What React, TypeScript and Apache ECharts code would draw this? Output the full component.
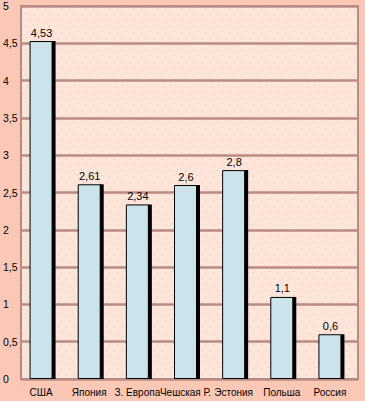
import React, { useEffect, useRef } from "react";
import * as echarts from "echarts";

const categories = ["США", "Япония", "З. Европа", "Чешская Р.", "Эстония", "Польша", "Россия"];
const values = [4.53, 2.61, 2.34, 2.6, 2.8, 1.1, 0.6];
const valueLabels = ["4,53", "2,61", "2,34", "2,6", "2,8", "1,1", "0,6"];
const yTicks = { min: 0, max: 5, interval: 0.5 };

const FONT = "'Liberation Sans', Arial, sans-serif";

function makePattern(): string {
  const c = document.createElement("canvas");
  c.width = 24;
  c.height = 24;
  const ctx = c.getContext("2d")!;
  ctx.fillStyle = "#fde5da";
  ctx.fillRect(0, 0, 24, 24);
  ctx.fillStyle = "#f6b8ac";
  const dots = [
    [1, 2], [9, 1], [17, 3], [5, 7], [13, 8], [21, 9], [2, 13], [10, 14], [18, 15], [6, 19], [14, 20], [22, 21],
  ];
  dots.forEach(([x, y]) => ctx.fillRect(x, y, 1, 1));
  return c.toDataURL();
}

export default function App() {
  const ref = useRef<HTMLDivElement>(null);
  useEffect(() => {
    if (!ref.current) return;
    const chart = echarts.init(ref.current, null, { renderer: "svg" });
    const pattern = makePattern();
    chart.setOption({
      animation: false,
      backgroundColor: "#fcc8b6",
      grid: {
        left: 21,
        right: 7,
        top: 6,
        bottom: 22,
        show: true,
        backgroundColor: { image: pattern, repeat: "repeat" },
        borderColor: "#b98b84",
        borderWidth: 2,
      },
      xAxis: {
        type: "category",
        data: categories,
        axisLine: { show: true, lineStyle: { color: "#b98b84", width: 2 } },
        axisTick: { show: false },
        axisLabel: {
          color: "#000",
          fontFamily: FONT,
          fontSize: 10,
          margin: 8,
          interval: 0,
          padding: [0, 8, 0, 0],
        },
      },
      yAxis: {
        type: "value",
        min: yTicks.min,
        max: yTicks.max,
        interval: yTicks.interval,
        axisLine: { show: true, lineStyle: { color: "#b98b84", width: 2 } },
        axisTick: { show: false },
        splitLine: { show: true, lineStyle: { color: "#b98b84", width: 2.5 } },
        axisLabel: {
          color: "#000",
          fontFamily: FONT,
          fontSize: 10.5,
          align: "left",
          margin: 18,
          formatter: (v: number) => String(v).replace(".", ","),
        },
      },
      series: [
        {
          type: "custom",
          data: values.map((v, i) => [i, v]),
          renderItem: (params: any, api: any) => {
            const idx = api.value(0);
            const v = api.value(1);
            const top = api.coord([idx, v]);
            const base = api.coord([idx, 0]);
            const cx = top[0];
            const h = base[1] - top[1];
            const left = cx - 15.5;
            return {
              type: "group",
              children: [
                {
                  type: "rect",
                  shape: { x: left + 22, y: top[1], width: 4, height: h },
                  style: { fill: "#000" },
                },
                {
                  type: "rect",
                  shape: { x: left + 0.5, y: top[1] + 0.5, width: 22, height: h - 1 },
                  style: { fill: "#cce3ec", stroke: "#000", lineWidth: 1 },
                },
                {
                  type: "text",
                  style: {
                    text: valueLabels[params.dataIndex],
                    x: left + 12,
                    y: top[1] - 3,
                    align: "center",
                    verticalAlign: "bottom",
                    fill: "#000",
                    font: "11px " + FONT,
                  },
                },
              ],
            };
          },
        },
      ],
    });
    return () => chart.dispose();
  }, []);
  return (
    <div
      ref={ref}
      style={{ position: "fixed", left: 0, top: 0, width: 365, height: 401 }}
    />
  );
}
